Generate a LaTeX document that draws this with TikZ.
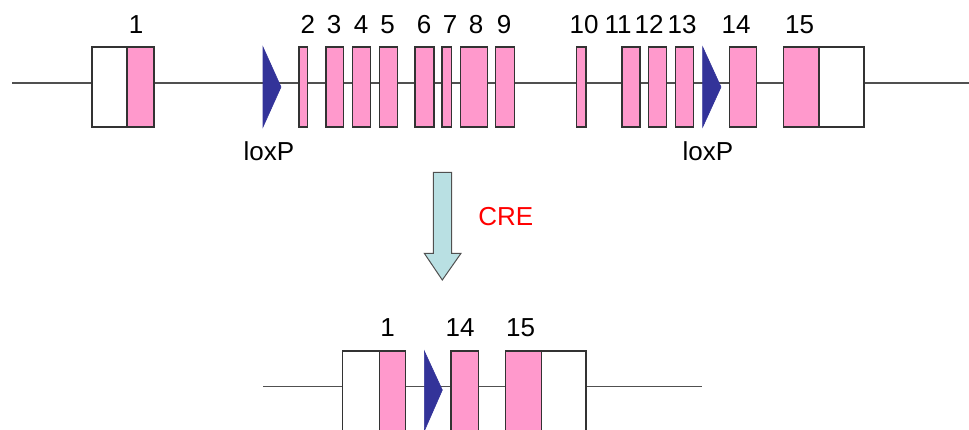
\documentclass[tikz,border=0pt]{standalone}
\usepackage{fontspec}
\setmainfont{Liberation Sans}
\definecolor{exonpink}{HTML}{FF99CC}
\definecolor{loxblue}{HTML}{333399}
\definecolor{arrowcyan}{HTML}{B9E0E3}
\definecolor{linegray}{HTML}{505050}
\begin{document}
\begin{tikzpicture}[x=1pt,y=-1pt,
  backbone/.style={draw=linegray,line width=1.3pt},
  exon/.style={draw=black!80,line width=1.2pt,fill=exonpink,inner sep=0pt,outer sep=0pt,minimum height=80pt},
  utr/.style={exon,fill=white},
  lox/.style={fill=loxblue,draw=loxblue,line width=0.6pt},
  lbl/.style={font=\fontsize{26}{30}\selectfont,anchor=base,inner sep=0pt},
  crearrow/.style={fill=arrowcyan,draw=linegray,line width=1pt}]
\clip (0,0) rectangle (969,429);
\useasboundingbox (0,0) rectangle (969,429);
% ---------------- top row ----------------
\coordinate (tL) at (12,83);
\coordinate (tR) at (969,83);
\draw[backbone] (tL) -- (tR);
\node[utr,minimum width=35pt] (u1) at (109.5,87) {};
\node[exon,minimum width=27pt] (e1) at (140.5,87) {};
\coordinate (x1a) at (263,47); \coordinate (x1b) at (263,127); \coordinate (x1t) at (281,87);
\draw[lox] (x1a) -- (x1t) -- (x1b) -- cycle;
\node[exon,minimum width=8.7pt] (e2) at (303.3,87) {};
\node[exon,minimum width=17.7pt] (e3) at (334.8,87) {};
\node[exon,minimum width=18pt] (e4) at (361.7,87) {};
\node[exon,minimum width=18pt] (e5) at (388.7,87) {};
\node[exon,minimum width=19pt] (e6) at (424.5,87) {};
\node[exon,minimum width=9.7pt] (e7) at (446.8,87) {};
\node[exon,minimum width=27.4pt] (e8) at (474,87) {};
\node[exon,minimum width=19pt] (e9) at (505.2,87) {};
\node[exon,minimum width=9.5pt] (e10) at (581.2,87) {};
\node[exon,minimum width=18pt] (e11) at (631,87) {};
\node[exon,minimum width=18pt] (e12) at (657.7,87) {};
\node[exon,minimum width=18pt] (e13) at (684.7,87) {};
\coordinate (x2a) at (702.7,47); \coordinate (x2b) at (702.7,127); \coordinate (x2t) at (721,87);
\draw[lox] (x2a) -- (x2t) -- (x2b) -- cycle;
\node[exon,minimum width=27pt] (e14) at (743.2,87) {};
\node[exon,minimum width=35.7pt] (e15) at (801.2,87) {};
\node[utr,minimum width=45pt] (u15) at (841.5,87) {};
% labels
\node[lbl] (n1) at (136,33.5) {1};
\node[lbl] (n2) at (307.8,33.5) {2};
\node[lbl] (n3) at (334,33.5) {3};
\node[lbl] (n4) at (361,33.5) {4};
\node[lbl] (n5) at (387.7,33.5) {5};
\node[lbl] (n6) at (424,33.5) {6};
\node[lbl] (n7) at (450,33.5) {7};
\node[lbl] (n8) at (476,33.5) {8};
\node[lbl] (n9) at (504,33.5) {9};
\node[lbl] (n10) at (584,33.5) {10};
\node[lbl] (n11) at (618,33.5) {11};
\node[lbl] (n12) at (649,33.5) {12};
\node[lbl] (n13) at (682,33.5) {13};
\node[lbl] (n14) at (736,33.5) {14};
\node[lbl] (n15) at (799.5,33.5) {15};
\node[lbl] (lox1) at (269,160) {loxP};
\node[lbl] (lox2) at (708,160) {loxP};
% ---------------- CRE arrow ----------------
\coordinate (a1) at (433.3,172.3); \coordinate (a2) at (451.7,172.3);
\coordinate (a3) at (451.7,253.3); \coordinate (a4) at (461,253.3);
\coordinate (a5) at (442.3,280); \coordinate (a6) at (424.3,253.3);
\coordinate (a7) at (433.3,253.3);
\draw[crearrow] (a1) -- (a2) -- (a3) -- (a4) -- (a5) -- (a6) -- (a7) -- cycle;
\node[lbl,text=red] (cre) at (505.7,225.7) {CRE};
% ---------------- bottom row ----------------
\coordinate (bL) at (263.3,386.7);
\coordinate (bR) at (702.3,386.7);
\draw[backbone] (bL) -- (bR);
\node[utr,minimum width=37pt] (bu1) at (360.8,391) {};
\node[exon,minimum width=26.4pt] (be1) at (392.5,391) {};
\coordinate (y1a) at (424.3,351); \coordinate (y1b) at (424.3,431); \coordinate (y1t) at (442.3,390);
\draw[lox] (y1a) -- (y1t) -- (y1b) -- cycle;
\node[exon,minimum width=27.3pt] (be14) at (464.7,391) {};
\node[exon,minimum width=36.4pt] (be15) at (523.5,391) {};
\node[utr,minimum width=44.3pt] (bu15) at (563.8,391) {};
\node[lbl] (m1) at (387.5,336.7) {1};
\node[lbl] (m14) at (460,336.7) {14};
\node[lbl] (m15) at (520.7,336.7) {15};
\end{tikzpicture}
\end{document}
